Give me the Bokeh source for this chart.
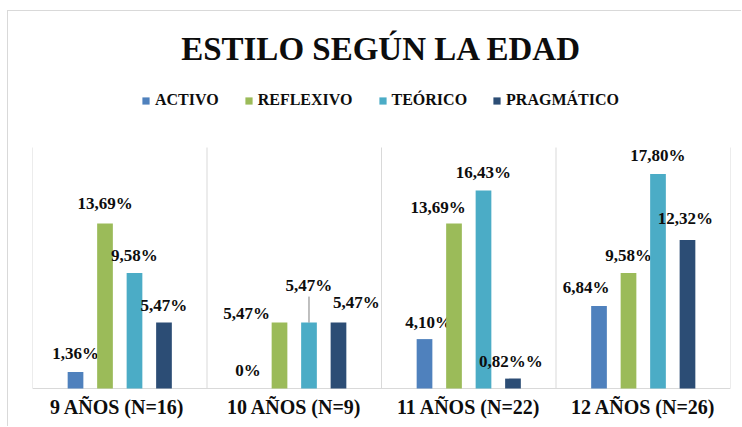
from bokeh.plotting import figure
from bokeh.models import (FactorRange, Range1d, ColumnDataSource, Legend, LegendItem,
                          Title)
from bokeh.transform import dodge
from bokeh.core.properties import value
from bokeh.embed import file_html
from bokeh.resources import INLINE

# ---- data ----
categories = ["9  AÑOS (N=16)", "10 AÑOS (N=9)", "11 AÑOS (N=22)", "12 AÑOS (N=26)"]
series_names = ["ACTIVO", "REFLEXIVO", "TEÓRICO", "PRAGMÁTICO"]
activo = [1.36, 0.0, 4.10, 6.84]
reflexivo = [13.69, 5.47, 13.69, 9.58]
teorico = [9.58, 5.47, 16.43, 17.80]
pragmatico = [5.47, 5.47, 0.82, 12.32]
activo_labels = ["1,36%", "0%", "4,10%", "6,84%"]
reflexivo_labels = ["13,69%", "5,47%", "13,69%", "9,58%"]
teorico_labels = ["9,58%", "5,47%", "16,43%", "17,80%"]
pragmatico_labels = ["5,47%", "5,47%", "0,82%%", "12,32%"]
axis_max = 20

# ---- styles ----
colors = ["#4F81BD", "#9BBB59", "#4BACC6", "#2C4D75"]
offsets = [-0.2535, -0.0845, 0.0845, 0.2535]
bar_w = 0.09
FONT = "Liberation Serif"
TXT = "#0d0d0d"
GRID = "#d9d9d9"
# label nudges in screen px (dx right, dy down)
label_dx = [[0, -2, 4, -13], [0, -33, -16, 0], [0, 0, 0, 0], [0, 18, -2, -2]]
label_dy = [[-18.6, -18, -17, -19], [-20, -9.3, -16.3, -17.6],
            [-17.6, -37, -18.3, -18.5], [-17, -20, -17, -21.5]]

# layout (page px); the chart box starts at (8, 11)
fig_left, fig_top = 8, 11
fig_w, fig_h = 734, 416
frame_left, frame_right = 32, 730
frame_top, plot_top, baseline = 66, 147, 388
fig_bottom = fig_top + fig_h
ppu = (baseline - plot_top) / axis_max
y_start = -(fig_bottom - baseline) / ppu
y_end = axis_max + (plot_top - frame_top) / ppu

values = [activo, reflexivo, teorico, pragmatico]
labels = [activo_labels, reflexivo_labels, teorico_labels, pragmatico_labels]

p = figure(x_range=FactorRange(*categories, range_padding=0),
           y_range=Range1d(y_start, y_end),
           width=fig_w, height=fig_h,
           min_border_left=frame_left - fig_left,
           min_border_right=fig_left + fig_w - frame_right,
           min_border_top=frame_top - fig_top, min_border_bottom=0,
           output_backend="svg", toolbar_location=None)

p.add_layout(Title(text="ESTILO SEGÚN LA EDAD", align="center", text_font_size="33px",
                   text_font=FONT, text_font_style="bold", text_color=TXT, standoff=0),
             "above")

p.xaxis.visible = False
p.yaxis.visible = False
p.xgrid.grid_line_color = None
p.ygrid.grid_line_color = None
p.outline_line_color = None

# category separators and baseline
bounds = list(range(len(categories) + 1))
p.segment(x0=bounds, y0=[0] * len(bounds), x1=bounds, y1=[axis_max] * len(bounds),
          line_color=GRID, line_width=1)
p.segment(x0=[0], y0=[0], x1=[len(categories)], y1=[0], line_color=GRID, line_width=1)

# category labels
cat_src = ColumnDataSource(dict(cat=categories, y=[0] * len(categories)))
p.text(x="cat", y="y", text="cat", source=cat_src, y_offset=18, text_align="center",
       text_baseline="middle", text_font=value(FONT), text_font_style="bold",
       text_font_size="20px", text_color=TXT)

items = []
for k, name in enumerate(series_names):
    src = ColumnDataSource(dict(cat=categories, val=values[k], lab=labels[k],
                                dx=label_dx[k], dy=label_dy[k]))
    r = p.vbar(x=dodge("cat", offsets[k], range=p.x_range), top="val", width=bar_w,
               source=src, fill_color=colors[k], line_color=None)
    p.text(x=dodge("cat", offsets[k], range=p.x_range), y="val", text="lab",
           x_offset="dx", y_offset="dy", source=src, text_align="center",
           text_baseline="middle", text_font=value(FONT), text_font_style="bold",
           text_font_size="17px", text_color=TXT)
    items.append(LegendItem(label=name, renderers=[r]))

# leader line for the displaced label (10 AÑOS, TEÓRICO)
lead_src = ColumnDataSource(dict(cat=[categories[1]], y0=[teorico[1]],
                                 y1=[teorico[1] + 26 / ppu]))
p.segment(x0=dodge("cat", offsets[2], range=p.x_range), y0="y0",
          x1=dodge("cat", offsets[2], range=p.x_range), y1="y1",
          source=lead_src, line_color="#808080", line_width=1)

legend = Legend(items=items, orientation="horizontal",
                location=(141 - frame_left, fig_bottom - 110),
                glyph_width=9, glyph_height=9, label_standoff=5, spacing=25,
                padding=0, margin=0, label_height=20,
                label_text_font=FONT, label_text_font_style="bold",
                label_text_font_size="16px", label_text_color=TXT,
                border_line_color=None, background_fill_alpha=0)
p.add_layout(legend, "center")

p.styles = {"margin-left": f"{fig_left - 1}px", "margin-top": f"{fig_top - 1}px",
            "border-top": "1px solid #d9d9d9", "border-left": "1px solid #d9d9d9"}

open("out.html", "w").write(file_html(p, INLINE))
